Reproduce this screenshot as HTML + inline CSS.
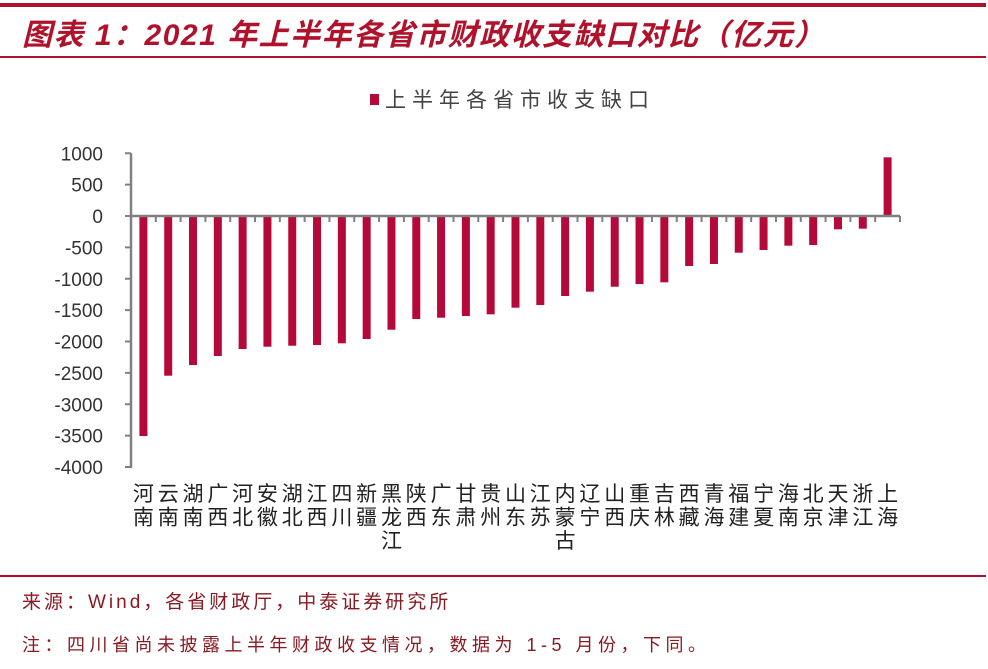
<!DOCTYPE html>
<html><head><meta charset="utf-8"><style>
body{margin:0;background:#fff;width:988px;height:664px;overflow:hidden;font-family:"Liberation Sans","Noto Sans CJK SC",sans-serif}
</style></head><body>
<svg width="988" height="664">
<rect x="0" y="3" width="986" height="4" fill="#b0112b"/>
<text x="22" y="45" font-size="30" font-weight="bold" font-style="italic" letter-spacing="1.5" fill="#b0112b" font-family="Liberation Sans,Noto Sans CJK SC,sans-serif">图表 1：2021 年上半年各省市财政收支缺口对比（亿元）</text>
<rect x="0" y="56" width="986" height="2" fill="#b0112b"/>
<rect x="370" y="94" width="9" height="11" fill="#b5093a"/>
<text x="385" y="107" font-size="21" letter-spacing="6" fill="#444">上半年各省市收支缺口</text>
<g id="plot"></g>
<rect x="0" y="575" width="986" height="2" fill="#b0112b"/>
<text x="22" y="608" font-size="19" letter-spacing="3" fill="#8a1a22">来源：Wind，各省财政厅，中泰证券研究所</text>
<text x="22" y="651" font-size="18" letter-spacing="4.5" fill="#8a1a22">注：四川省尚未披露上半年财政收支情况，数据为 1-5 月份，下同。</text>
</svg>
<script>
const categories=["河南","云南","湖南","广西","河北","安徽","湖北","江西","四川","新疆","黑龙江","陕西","广东","甘肃","贵州","山东","江苏","内蒙古","辽宁","山西","重庆","吉林","西藏","青海","福建","宁夏","海南","北京","天津","浙江","上海"];
const values=[-3506,-2545,-2375,-2231,-2120,-2083,-2067,-2056,-2029,-1960,-1812,-1641,-1621,-1594,-1567,-1461,-1419,-1275,-1206,-1127,-1084,-1057,-797,-765,-585,-542,-473,-462,-212,-202,935];
const yTicks=[1000,500,0,-500,-1000,-1500,-2000,-2500,-3000,-3500,-4000];
const NS="http://www.w3.org/2000/svg";
const g=document.getElementById('plot');
const x0=131,x1=900,step=(x1-x0)/categories.length;
const yScale=v=>216-v*0.06275;
const xCenter=i=>x0+step*(i+0.5);
function mk(t,a){const e=document.createElementNS(NS,t);for(const k in a)e.setAttribute(k,a[k]);g.appendChild(e);return e;}
yTicks.forEach(v=>{
 const t=mk('line',{x1:x0-6,x2:x0,y1:yScale(v),y2:yScale(v),stroke:'#808080','stroke-width':2});
 
 
 const l=mk('text',{x:103,y:yScale(v)+7,'text-anchor':'end','font-size':19,fill:'#333'});
 l.textContent=v;
 
 
});
values.forEach((v,i)=>{
 const y=Math.min(yScale(v),yScale(0)),h=Math.abs(yScale(v)-yScale(0));
 const r=mk('rect',{x:xCenter(i)-4,y:y,width:8,height:h,fill:'#b5093a'});
 
 
});
for(let i=0;i<=categories.length;i++){
 const t=mk('line',{x1:x0+step*i,x2:x0+step*i,y1:216,y2:222,stroke:'#808080','stroke-width':2});
 
 
}
const xa=mk('line',{x1:x0,x2:x1,y1:216,y2:216,stroke:'#808080','stroke-width':2.5});


const ya=mk('line',{x1:x0,x2:x0,y1:yScale(1000),y2:yScale(-4000)+1,stroke:'#808080','stroke-width':2.5});


categories.forEach((c,i)=>{
 const t=mk('text',{x:xCenter(i),y:0,'text-anchor':'middle','font-size':21,fill:'#222'});
 
 
 [...c].forEach((ch,j)=>{const s=document.createElementNS(NS,'tspan');s.setAttribute('x',xCenter(i));s.setAttribute('y',501+j*23.5);s.textContent=ch;t.appendChild(s);});
});
</script>
</body></html>
